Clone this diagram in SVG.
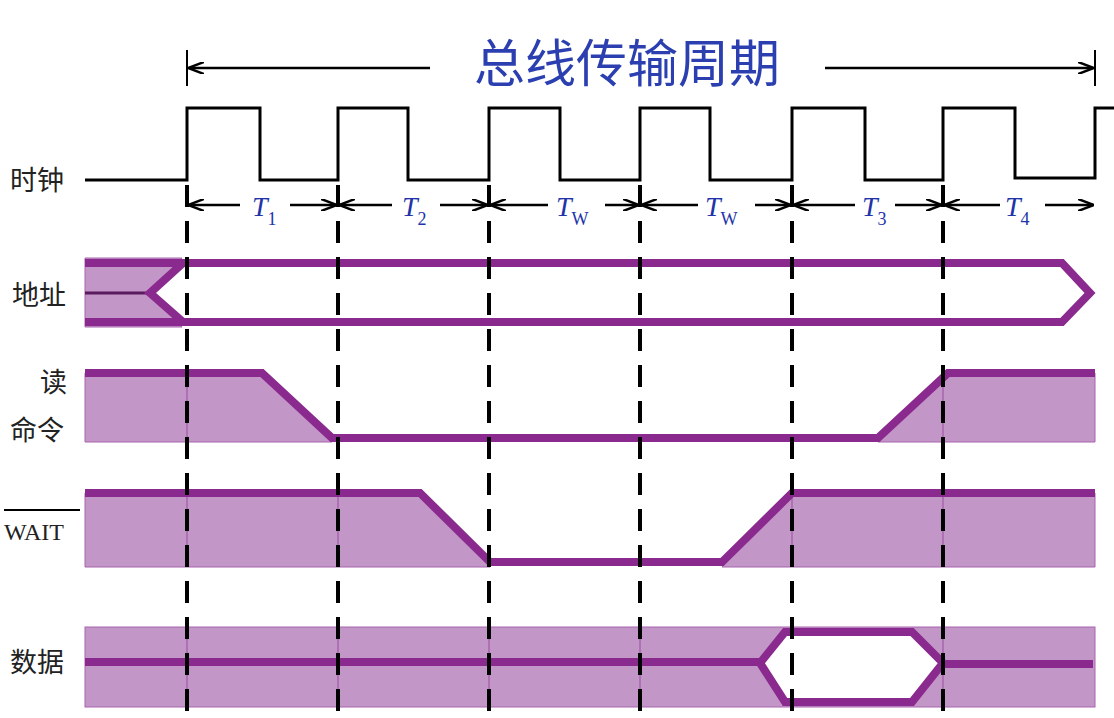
<svg xmlns="http://www.w3.org/2000/svg" width="1114" height="718" viewBox="0 0 1114 718">
<defs>
<style>
.lbl{font-family:"Noto Sans CJK SC","Liberation Serif",serif;font-size:27px;fill:#222}
.t{font-family:"Liberation Serif",serif;font-style:italic;font-size:28px;fill:#2233aa}
.sub{font-style:normal;font-size:18px}
.blk{stroke:#000;stroke-width:3;fill:none}
.sig{stroke:#8a2a8e;stroke-width:8;fill:none;stroke-linejoin:miter}
.hex{stroke:#8a2a8e;stroke-width:8;fill:#fff;stroke-linejoin:miter}
.fill{fill:#c396c8;stroke:#a765ad;stroke-width:1}
.dash{stroke:#000;stroke-width:4;stroke-dasharray:22,14}
</style>
<marker id="ah" markerWidth="16" markerHeight="12" refX="15" refY="6" orient="auto-start-reverse" markerUnits="userSpaceOnUse"><path d="M0,0 L16,6 L0,12" fill="none" stroke="#000" stroke-width="2.5"/></marker>
</defs>
<rect width="1114" height="718" fill="#fff"/>
<g id="title">
<text x="627" y="82" text-anchor="middle" style="font-family:'Noto Sans CJK SC',sans-serif;font-size:51px;fill:#2b3fb0">总线传输周期</text>
</g>
<g id="labels">
<text class="lbl" x="10" y="190">时钟</text>
<text class="lbl" x="12" y="305">地址</text>
<text class="lbl" x="40" y="392">读</text>
<text class="lbl" x="10" y="440">命令</text>
<line x1="4" y1="510" x2="80" y2="510" stroke="#000" stroke-width="2"/>
<text x="4" y="540" style="font-family:'Liberation Serif',serif;font-size:24px;fill:#222">WAIT</text>
<text class="lbl" x="10" y="672">数据</text>
</g>
<g id="fills">
<polygon class="fill" points="85,258 182,258 150,293 182,327 85,327"/>
<polygon class="fill" points="85,373 262,373 332,442 85,442"/>
<polygon class="fill" points="878,442 948,373 1095,373 1095,442"/>
<polygon class="fill" points="85,493 420,493 490,567 85,567"/>
<polygon class="fill" points="722,567 792,493 1095,493 1095,567"/>
<rect class="fill" x="85" y="627" width="1010" height="80"/>
<g stroke="#a765ad" stroke-width="1.5">
<line x1="187" y1="373" x2="187" y2="442"/><line x1="187" y1="493" x2="187" y2="567"/><line x1="338" y1="493" x2="338" y2="567"/>
<line x1="943" y1="373" x2="943" y2="442"/><line x1="792" y1="493" x2="792" y2="567"/><line x1="943" y1="493" x2="943" y2="567"/>
<line x1="187" y1="627" x2="187" y2="707"/><line x1="338" y1="627" x2="338" y2="707"/><line x1="489" y1="627" x2="489" y2="707"/><line x1="640" y1="627" x2="640" y2="707"/><line x1="792" y1="627" x2="792" y2="707"/><line x1="943" y1="627" x2="943" y2="707"/>
</g>
</g>
<g id="signals">
<line x1="85" y1="293" x2="150" y2="293" stroke="#5a1a5e" stroke-width="3"/>
<line class="sig" x1="85" y1="263" x2="187" y2="263"/>
<line class="sig" x1="85" y1="322" x2="187" y2="322"/>
<polygon class="hex" points="150,293 183,263 1062,263 1090,293 1062,322 183,322"/>
<polyline class="sig" points="85,373 262,373 332,438 878,438 948,373 1095,373"/>
<polyline class="sig" points="85,493 420,493 490,562 722,562 792,493 1095,493"/>
<line class="sig" x1="85" y1="662" x2="760" y2="662"/>
<line class="sig" x1="943" y1="664" x2="1093" y2="664"/>
<polygon class="hex" points="760,663 785,632 912,632 943,663 912,702 785,702"/>
</g>
<g id="clock">
<polyline class="blk" points="85,180 187,180 187,108 260,108 260,180 338,180 338,108 408,108 408,180 489,180 489,108 560,108 560,180 640,180 640,108 710,108 710,180 792,180 792,108 865,108 865,180 943,180 943,108 1015,108 1015,178 1095,178 1095,108 1114,108"/>
</g>
<g id="connectors">
<line x1="187" y1="50" x2="187" y2="86" stroke="#000" stroke-width="2"/>
<line x1="1095" y1="50" x2="1095" y2="86" stroke="#000" stroke-width="2"/>
<line x1="430" y1="68" x2="189" y2="68" stroke="#000" stroke-width="2.5" marker-end="url(#ah)"/>
<line x1="825" y1="68" x2="1093" y2="68" stroke="#000" stroke-width="2.5" marker-end="url(#ah)"/>
<g stroke="#000" stroke-width="2.5">
<line x1="189" y1="205" x2="240" y2="205" marker-start="url(#ah)"/><line x1="290" y1="205" x2="336" y2="205" marker-end="url(#ah)"/>
<line x1="340" y1="205" x2="392" y2="205" marker-start="url(#ah)"/><line x1="440" y1="205" x2="487" y2="205" marker-end="url(#ah)"/>
<line x1="491" y1="205" x2="548" y2="205" marker-start="url(#ah)"/><line x1="605" y1="205" x2="638" y2="205" marker-end="url(#ah)"/>
<line x1="642" y1="205" x2="698" y2="205" marker-start="url(#ah)"/><line x1="755" y1="205" x2="790" y2="205" marker-end="url(#ah)"/>
<line x1="794" y1="205" x2="855" y2="205" marker-start="url(#ah)"/><line x1="895" y1="205" x2="941" y2="205" marker-end="url(#ah)"/>
<line x1="945" y1="205" x2="1000" y2="205" marker-start="url(#ah)"/><line x1="1045" y1="205" x2="1093" y2="205" marker-end="url(#ah)"/>
</g>
<g class="dash">
<line x1="187" y1="185" x2="187" y2="712"/><line x1="338" y1="185" x2="338" y2="712"/><line x1="489" y1="185" x2="489" y2="712"/><line x1="640" y1="185" x2="640" y2="712"/><line x1="792" y1="185" x2="792" y2="712"/><line x1="943" y1="185" x2="943" y2="712"/>
</g>
</g>
<g id="tlabels">
<text class="t" x="252" y="216">T<tspan class="sub" dy="9">1</tspan></text>
<text class="t" x="402" y="216">T<tspan class="sub" dy="9">2</tspan></text>
<text class="t" x="556" y="216">T<tspan class="sub" dy="9">W</tspan></text>
<text class="t" x="705" y="216">T<tspan class="sub" dy="9">W</tspan></text>
<text class="t" x="862" y="216">T<tspan class="sub" dy="9">3</tspan></text>
<text class="t" x="1005" y="216">T<tspan class="sub" dy="9">4</tspan></text>
</g>
</svg>
